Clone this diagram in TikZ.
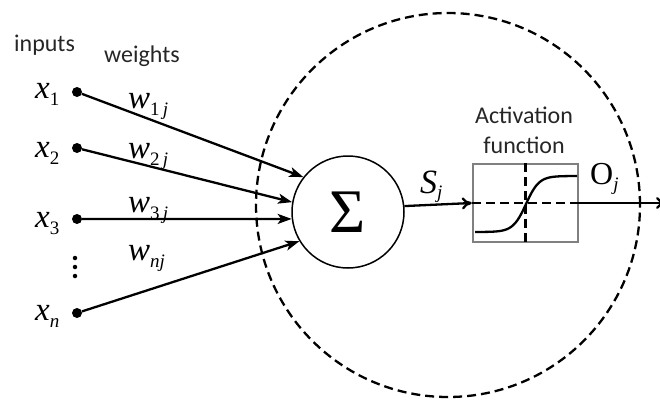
\documentclass[tikz,border=0pt]{standalone}
\usepackage{fontspec}
\setmainfont{Liberation Serif}
\newfontfamily\calfont{Carlito}
\usetikzlibrary{arrows.meta}
\newcommand{\xsub}[3][-7pt]{#2\raisebox{#1}{\fontsize{19}{19}\selectfont\upshape #3}}
\begin{document}
\begin{tikzpicture}[x=1pt,y=-1pt,
  dot/.style={circle,fill=black,inner sep=0pt,minimum size=10pt},
  sdot/.style={circle,fill=black,inner sep=0pt,minimum size=4.5pt},
  lbl/.style={font=\fontsize{33}{33}\selectfont\itshape,inner sep=0pt},
  sans/.style={font=\calfont\fontsize{24}{24}\selectfont,inner sep=0pt,text=black!85},
  conn/.style={line width=2.3pt,-{Stealth[length=14pt,width=10pt,inset=3.5pt]}},
  dashcircle/.style={circle,draw,dash pattern=on 9pt off 5pt,line width=2.3pt,inner sep=0pt},
]
\useasboundingbox (0,0) rectangle (660,399);
% neuron outline
\node[dashcircle,minimum size=384pt] (neuron) at (448,205) {};
% summation
\node[circle,draw,line width=1.5pt,minimum size=112pt,inner sep=0pt,fill=white,
      font=\fontsize{62}{62}\selectfont] (sig) at (348,212) {Σ};
% activation box
\node[draw=black!50,line width=2.4pt,minimum width=105pt,minimum height=78pt,inner sep=0pt] (act) at (525.5,203) {};
\draw[line width=2.2pt,dash pattern=on 9pt off 5pt] (act.west) -- (act.east);
\draw[line width=2.2pt,dash pattern=on 9pt off 5pt] (act.north) -- (act.south);
\draw[line width=2.3pt] plot[domain=-51:51,samples=80] ({526+\x},{204-28*tanh(\x/13)});
% inputs
\node[dot] (x1) at (77,92) {};
\node[dot] (x2) at (77,148) {};
\node[dot] (x3) at (77,219) {};
\node[dot] (xn) at (77,313) {};
\node[sdot] (v1) at (75,258) {};
\node[sdot] (v2) at (75,267) {};
\node[sdot] (v3) at (75,276) {};
\node[lbl,anchor=base west] (lx1) at (35,98) {\xsub{x}{1}};
\node[lbl,anchor=base west] (lx2) at (35,157) {\xsub{x}{2}};
\node[lbl,anchor=base west] (lx3) at (35,227) {\xsub{x}{3}};
\node[lbl,anchor=base west] (lxn) at (35,320) {\xsub{x}{\itshape n}};
\node[lbl,anchor=base west] (w1) at (128,108) {\xsub{w}{1\,\itshape j}};
\node[lbl,anchor=base west] (w2) at (128,158) {\xsub{w}{2\,\itshape j}};
\node[lbl,anchor=base west] (w3) at (128,212) {\xsub{w}{3\,\itshape j}};
\node[lbl,anchor=base west] (wn) at (128,260) {\xsub{w}{\itshape nj}};
\node[sans,anchor=base west] (inputs) at (14,51) {inputs};
\node[sans,anchor=base west] (weights) at (104,62) {weights};
\node[sans,anchor=base] (actl1) at (524,123) {Activation};
\node[sans,anchor=base] (actl2) at (524,153) {function};
\node[lbl,anchor=base west,font=\fontsize{34}{34}\selectfont\itshape] (sj) at (420,193) {\xsub[-5pt]{S}{\itshape j}};
\node[lbl,anchor=base west,font=\fontsize{32}{32}\selectfont] (oj) at (590,184) {\xsub[-6pt]{O}{\itshape j}};
% connections
\draw[conn] (x1) -- (sig.142.7);
\draw[conn] (x2) -- (sig.170);
\draw[conn] (x3) -- (sig.187);
\draw[conn] (xn) -- (sig.211);
\draw[conn,-{To[length=10pt,width=12pt]}] (sig.6) -- (act.west);
\coordinate (out) at (666,203);
\draw[conn,-{To[length=10pt,width=12pt]}] (act.east) -- (out);
\end{tikzpicture}
\end{document}
